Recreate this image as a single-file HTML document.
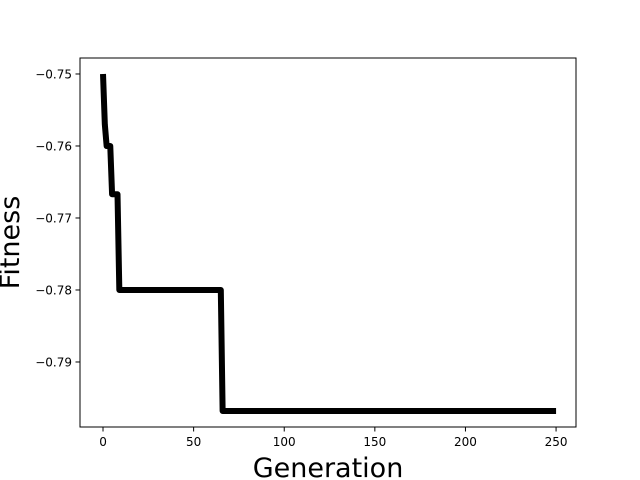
<!DOCTYPE html>
<html><head><meta charset="utf-8"><style>
body{margin:0;background:#fff;}
svg{display:block;font-family:"DejaVu Sans","Liberation Sans",sans-serif;}
</style></head><body>
<svg id="chart" width="640" height="480" xmlns="http://www.w3.org/2000/svg">
<rect x="0" y="0" width="640" height="480" fill="#fff"/>
<g id="plot"></g>
<g id="axes"></g>
</svg>
<script>
const generations = [0, 1, 2, 3, 4, 5, 6, 7, 8, 9, 65, 66, 250];
const fitness = [-0.75, -0.757, -0.76, -0.76, -0.76, -0.7667, -0.7667, -0.7667, -0.7667, -0.78, -0.78, -0.7968, -0.7968];
const xTicks = [0, 50, 100, 150, 200, 250];
const yTicks = [-0.75, -0.76, -0.77, -0.78, -0.79];
const yTickLabels = ["\u22120.75", "\u22120.76", "\u22120.77", "\u22120.78", "\u22120.79"];

const L=80,R=576,T=58,B=427;
const xmin=-12.7,xmax=261.0,ymax=-0.74778,ymin=-0.79903;
const sx=v=>L+(v-xmin)/(xmax-xmin)*(R-L);
const sy=v=>T+(ymax-v)/(ymax-ymin)*(B-T);
const NS="http://www.w3.org/2000/svg";
const mk=(t,a,p)=>{const e=document.createElementNS(NS,t);for(const k in a)e.setAttribute(k,a[k]);p.appendChild(e);return e;};
const plot=document.getElementById('plot'),axes=document.getElementById('axes');

let d=generations.map((g,i)=>(i?'L':'M')+sx(g).toFixed(2)+','+sy(fitness[i]).toFixed(2)).join(' ');
const line=mk('path',{d:d,fill:'none',stroke:'#000','stroke-width':6,'stroke-linejoin':'round'},plot);



const frame=mk('rect',{x:L,y:T,width:R-L,height:B-T,fill:'none',stroke:'#000','stroke-width':1},axes);



xTicks.forEach(v=>{
  const x=sx(v);
  const tk=mk('line',{x1:x,y1:B,x2:x,y2:B+4.5,stroke:'#000'},axes);
  
  
  const t=mk('text',{x:x,y:B+19,'text-anchor':'middle','font-size':12},axes);
  t.textContent=v;
  
  
});
yTicks.forEach((v,i)=>{
  const y=sy(v);
  const tk=mk('line',{x1:L-4.5,y1:y,x2:L,y2:y,stroke:'#000'},axes);
  
  
  const t=mk('text',{x:L-8,y:y+4.5,'text-anchor':'end','font-size':12},axes);
  t.textContent=yTickLabels[i];
  
  
});
const xt=mk('text',{x:(L+R)/2,y:477,'text-anchor':'middle','font-size':27},axes);
xt.textContent='Generation';


const yt=mk('text',{x:0,y:0,'text-anchor':'middle','font-size':27,transform:'translate(19,'+((T+B)/2)+') rotate(-90)'},axes);
yt.textContent='Fitness';


</script>
</body></html>
